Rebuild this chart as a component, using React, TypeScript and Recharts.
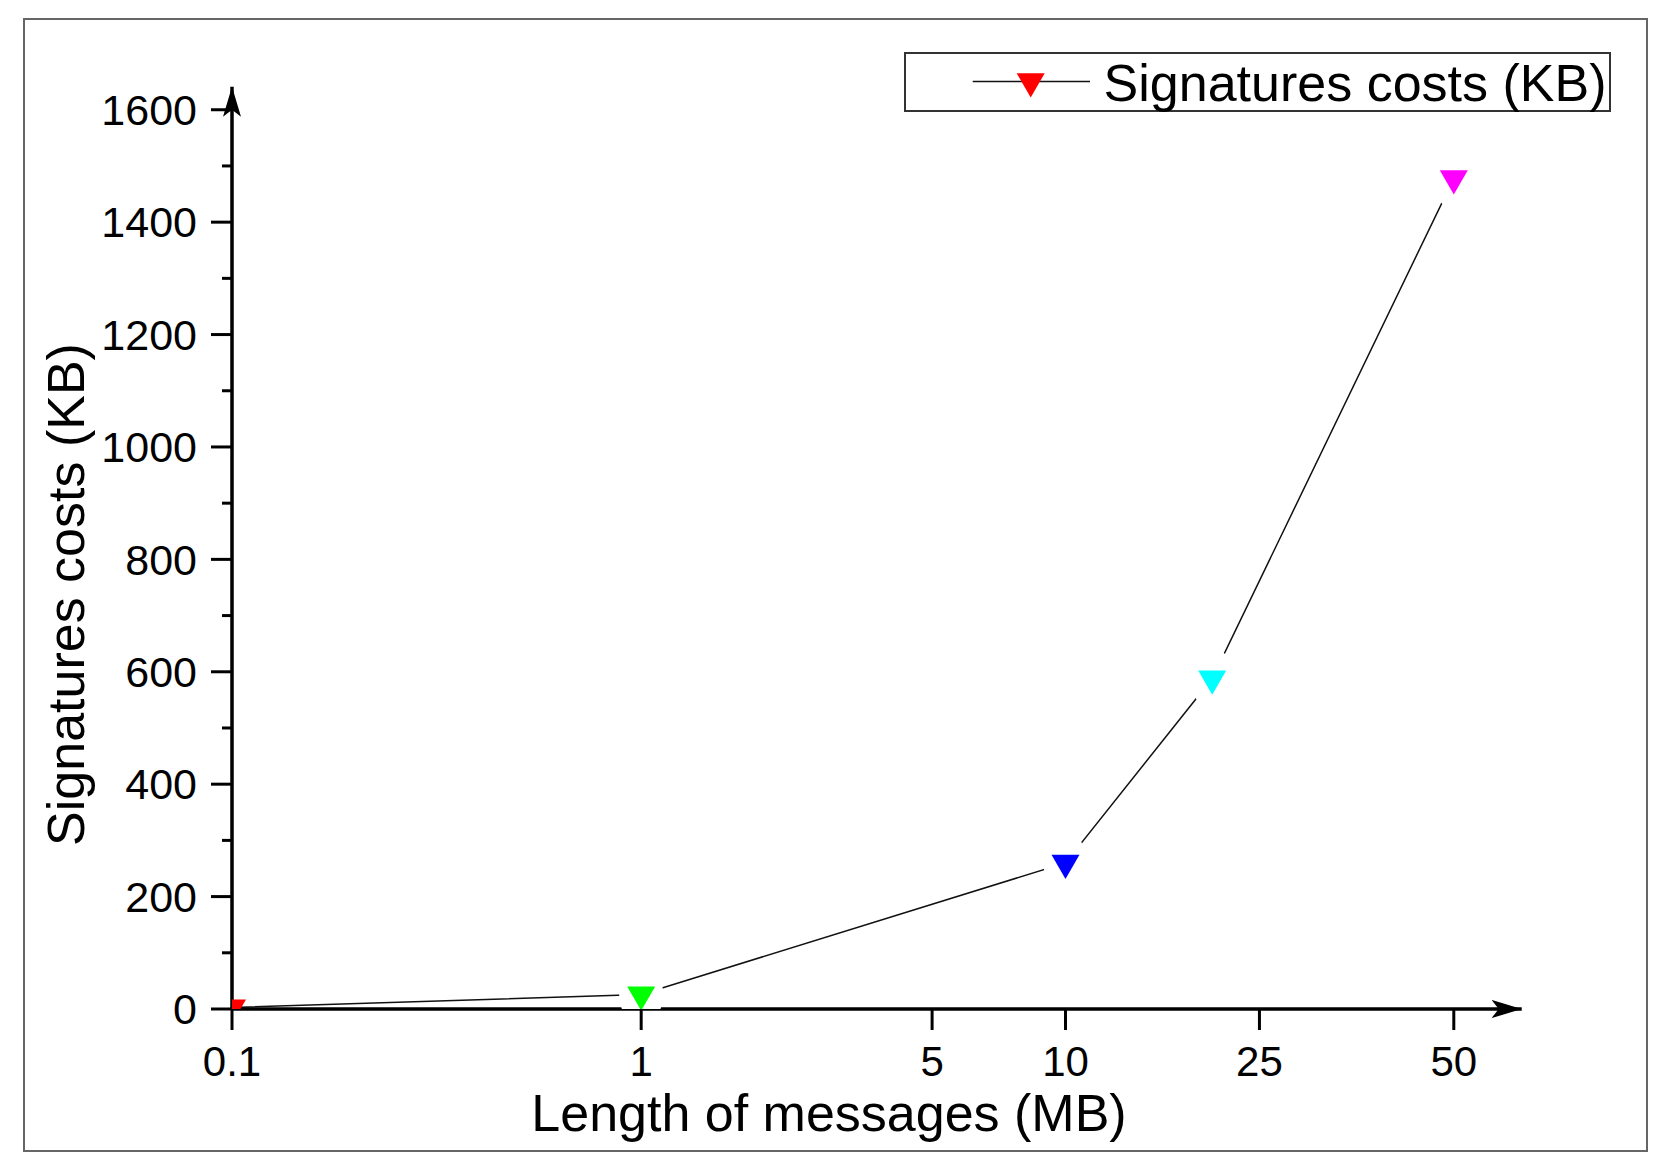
import React from 'react';
import { LineChart, Line, XAxis, YAxis, Legend } from 'recharts';

// ---------------- data ----------------
const MESSAGE_LENGTHS_MB = [0.1, 1, 10, 20, 50];
const SIGNATURE_COSTS_KB = [2.6, 25.8, 260, 588, 1478];
const SERIES_NAME = 'Signatures costs (KB)';
const X_TICKS = [0.1, 1, 5, 10, 25, 50];
const Y_MAJOR_TICKS = [0, 200, 400, 600, 800, 1000, 1200, 1400, 1600];
const Y_MINOR_TICKS = [100, 300, 500, 700, 900, 1100, 1300, 1500];
const X_TITLE = 'Length of messages (MB)';
const Y_TITLE = 'Signatures costs (KB)';

// ---------------- styles ----------------
const POINT_COLORS = ['#ff0000', '#00ff00', '#0000ff', '#00ffff', '#ff00ff'];
const FONT = '"Liberation Sans", Arial, Helvetica, sans-serif';
const AXIS_WIDTH = 3.5;

const data = MESSAGE_LENGTHS_MB.map((x, i) => ({ x, cost: SIGNATURE_COSTS_KB[i] }));

// The original chart uses a hand-made, non-uniform x axis: tick values are laid out
// at these relative stations (log-interpolated in between).
const AXIS_STATIONS = [0, 1, 1.711, 2.037, 2.511, 2.986];

function stationOf(v: number): number {
  const lv = Math.log10(v);
  const logs = X_TICKS.map((t) => Math.log10(t));
  let i = 0;
  while (i < logs.length - 2 && lv > logs[i + 1]) i++;
  const t = (lv - logs[i]) / (logs[i + 1] - logs[i]);
  return AXIS_STATIONS[i] + t * (AXIS_STATIONS[i + 1] - AXIS_STATIONS[i]);
}

function makeStationScale(dom: number[] = [0.1, 50], rng: number[] = [0, 1]): any {
  let d = dom.slice();
  let r = rng.slice();
  const scale: any = (v: number) => {
    const u0 = stationOf(d[0]);
    const u1 = stationOf(d[d.length - 1]);
    return r[0] + ((stationOf(v) - u0) / (u1 - u0)) * (r[r.length - 1] - r[0]);
  };
  scale.domain = (nd?: number[]) => {
    if (nd === undefined) return d.slice();
    d = nd.slice();
    return scale;
  };
  scale.range = (nr?: number[]) => {
    if (nr === undefined) return r.slice();
    r = nr.slice();
    return scale;
  };
  scale.copy = () => makeStationScale(d, r);
  scale.ticks = () => X_TICKS.filter((t) => t >= d[0] && t <= d[d.length - 1]);
  scale.tickFormat = () => (v: number) => String(v);
  scale.clamp = () => scale;
  scale.nice = () => scale;
  scale.invert = (px: number) => {
    let lo = d[0];
    let hi = d[d.length - 1];
    for (let k = 0; k < 60; k++) {
      const mid = Math.sqrt(lo * hi);
      if (scale(mid) < px) lo = mid;
      else hi = mid;
    }
    return Math.sqrt(lo * hi);
  };
  return scale;
}

const xScale = makeStationScale();

// ---------------- renderers ----------------
const Y_TICK_SIZE = 21;
const Y_TICK_MARGIN = 14;

const YTick = (props: any) => {
  const { x, y, payload } = props;
  const axisX = x + Y_TICK_SIZE + Y_TICK_MARGIN;
  const major = Y_MAJOR_TICKS.includes(payload.value);
  return (
    <g>
      <line x1={axisX - (major ? 21 : 10)} x2={axisX} y1={y} y2={y} stroke="#000" strokeWidth={3} />
      {major && (
        <text x={x} y={y} dy="0.355em" textAnchor="end" fontSize={43} fill="#000" fontFamily={FONT}>
          {payload.value}
        </text>
      )}
    </g>
  );
};

const Marker = (props: any) => {
  const { cx, cy, index } = props;
  if (cx == null || cy == null) return <g key={`m-${index}`} />;
  const s = 28;
  const h = (s * Math.sqrt(3)) / 2;
  const pts = `${cx - s / 2},${cy - h / 3} ${cx + s / 2},${cy - h / 3} ${cx},${cy + (2 * h) / 3}`;
  return (
    <g key={`m-${index}`}>
      {index > 0 && <ellipse cx={cx} cy={cy} rx={22} ry={30} fill="#fff" />}
      <polygon points={pts} fill={POINT_COLORS[index % POINT_COLORS.length]} />
    </g>
  );
};

const LegendBox = (props: any) => {
  const item = props.payload && props.payload[0];
  const label = item ? item.value : SERIES_NAME;
  const s = 28;
  const h = (s * Math.sqrt(3)) / 2;
  const cx = 126.7;
  const cy = 29.4;
  return (
    <svg width={708} height={61} style={{ display: 'block' }}>
      <rect x={1} y={1} width={705} height={58} fill="#fff" stroke="#333" strokeWidth={2} />
      <line x1={68.7} x2={186} y1={cy} y2={cy} stroke="#111" strokeWidth={1.5} />
      <polygon
        points={`${cx - s / 2},${cy - h / 3} ${cx + s / 2},${cy - h / 3} ${cx},${cy + (2 * h) / 3}`}
        fill={POINT_COLORS[0]}
      />
      <text x={199.6} y={48.7} fontSize={52} fill="#000" fontFamily={FONT}>
        {label}
      </text>
    </svg>
  );
};

export default function App() {
  return (
    <div style={{ position: 'relative', width: 1656, height: 1148, background: '#fff', fontFamily: FONT }}>
      <div
        style={{
          position: 'absolute',
          left: 15,
          top: 10,
          width: 1625,
          height: 1134,
          boxSizing: 'border-box',
          border: '2px solid #666',
          pointerEvents: 'none',
        }}
      />
      <LineChart
        width={1656}
        height={1148}
        data={data}
        margin={{ top: 78.7, right: 142.3, left: 0, bottom: 0 }}
        style={{ fontFamily: FONT }}
      >
        <defs>
          <marker
            id="arrowHead"
            markerUnits="userSpaceOnUse"
            markerWidth={32}
            markerHeight={20}
            refX={30}
            refY={9}
            orient="auto-start-reverse"
          >
            <path d="M0,0 L30,9 L0,18 L7,9 Z" fill="#000" />
          </marker>
        </defs>
        <Line
          dataKey="cost"
          name={SERIES_NAME}
          stroke="#111"
          strokeWidth={1.5}
          dot={Marker}
          activeDot={false}
          isAnimationActive={false}
        />
        <XAxis
          dataKey="x"
          type="number"
          scale={xScale}
          domain={[0.1, 63.7]}
          allowDataOverflow
          ticks={X_TICKS}
          interval={0}
          height={147}
          tickSize={21}
          tickMargin={16}
          tick={{ fontSize: 42, fill: '#000', fontFamily: FONT }}
          tickLine={{ stroke: '#000', strokeWidth: 3 }}
          axisLine={{ stroke: '#000', strokeWidth: AXIS_WIDTH, markerEnd: 'url(#arrowHead)' }}
          label={{
            value: X_TITLE,
            content: () => (
              <text x={821} y={1123} textAnchor="middle" fontSize={52} fill="#000" fontFamily={FONT}>
                {X_TITLE}
              </text>
            ),
          }}
        />
        <YAxis
          type="number"
          domain={[0, 1641]}
          allowDataOverflow
          ticks={[...Y_MAJOR_TICKS, ...Y_MINOR_TICKS].sort((a, b) => a - b)}
          interval={0}
          width={224}
          tickSize={Y_TICK_SIZE}
          tickMargin={Y_TICK_MARGIN}
          tick={<YTick />}
          tickLine={false}
          axisLine={{ stroke: '#000', strokeWidth: AXIS_WIDTH, markerStart: 'url(#arrowHead)' }}
          label={{
            value: Y_TITLE,
            content: () => (
              <text
                x={76}
                y={586.5}
                transform="rotate(-90, 76, 586.5)"
                textAnchor="middle"
                fontSize={52}
                fill="#000"
                fontFamily={FONT}
              >
                {Y_TITLE}
              </text>
            ),
          }}
        />
        <Legend
          layout="vertical"
          align="center"
          verticalAlign="middle"
          wrapperStyle={{ position: 'absolute', left: 896, top: 44.3, width: 708, height: 61 }}
          content={LegendBox}
        />
      </LineChart>
    </div>
  );
}
